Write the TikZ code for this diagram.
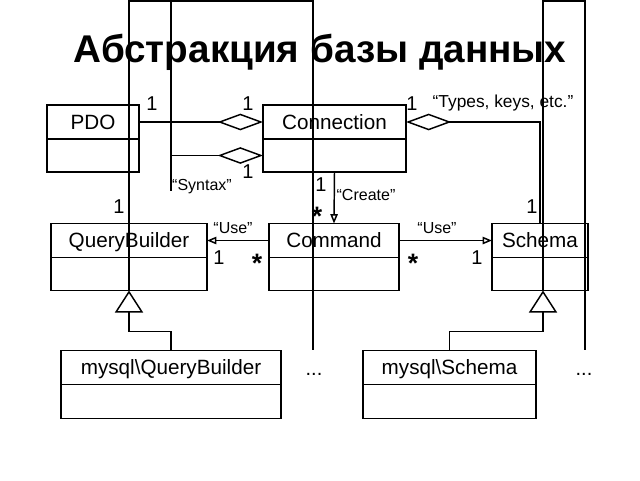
\documentclass[tikz,border=0pt]{standalone}
\usepackage{fontspec}
\setmainfont{Liberation Sans}
\usetikzlibrary{positioning}
\usetikzlibrary{arrows.meta}

\tikzset{
  agg/.tip={Diamond[open,length=34pt,width=12.5pt]},
  gentip/.tip={Triangle[open,length=16.5pt,width=21pt]},
  usetip/.tip={Triangle[open,length=7pt,width=5.5pt]},
  classname/.style={draw,minimum width=#1,minimum height=25.5pt,inner sep=0pt,outer sep=0pt,text height=11pt,text depth=0pt,font=\fontsize{15.5}{18}\selectfont},
  classbody/.style={draw,minimum width=#1,minimum height=24.75pt,inner sep=0pt,outer sep=0pt},
  mult/.style={inner sep=0pt,font=\fontsize{15}{18}\selectfont},
  star/.style={inner sep=0pt,font=\fontsize{20}{20}\selectfont\bfseries},
  role/.style={inner sep=0pt,font=\fontsize{12}{14}\selectfont}
}

\begin{document}
\begin{tikzpicture}[x=0.75pt,y=-0.75pt,line width=1.1pt,every path/.style={>=usetip}]
			\useasboundingbox (0,0) rectangle (640,480);

			% title
			\node (title) at (320,52) {\fontsize{29}{34}\selectfont\bfseries Абстракция базы данных};

			% draw classes
			\node (pdo) at (93,122) [classname=69pt] {PDO};
			\node (pdob) [classbody=69pt,below=0pt of pdo] {};
			\node (conn) at (334.5,122) [classname=107.25pt] {Connection};
			\node (connb) [classbody=107.25pt,below=0pt of conn] {};
			\node (qb) at (129,240.5) [classname=117pt] {QueryBuilder};
			\node (qbb) [classbody=117pt,below=0pt of qb] {};
			\node (cmd) at (334,240.5) [classname=97.5pt] {Command};
			\node (cmdb) [classbody=97.5pt,below=0pt of cmd] {};
			\node (schema) at (540,240.5) [classname=72pt] {Schema};
			\node (schemab) [classbody=72pt,below=0pt of schema] {};
			\node (mqb) at (171,367.5) [classname=165pt] {mysql\textbackslash QueryBuilder};
			\node (mqbb) [classbody=165pt,minimum height=25.5pt,below=0pt of mqb] {};
			\node (msch) at (449.5,367.5) [classname=129.75pt] {mysql\textbackslash Schema};
			\node (mschb) [classbody=129.75pt,minimum height=25.5pt,below=0pt of msch] {};

			% frame lines
			\coordinate (syntop) at (171,1);
			\coordinate (synend) at (171,191);
			\draw (qbb.south) |- (313,1) -- (313,350);
			\draw (syntop) -- (synend);
			\draw ([xshift=2.25pt]schemab.south) |- (585,1) -- (585,350);

			% draw aggregations
			\draw[-agg] (pdo.east) -- (conn.west);
			\draw[-agg] (synend |- connb.west) -- (connb.west);
			\draw[agg-] (conn.east) -| (schema.north);

			% draw dependencies
			\draw[->] (connb.south) -- (cmd.north);
			\draw[->] (cmd.west) -- (qb.east);
			\draw[->] (cmd.east) -- (schema.west);

			% draw generalizations
			\draw[-gentip] (mqb.north) -- ++(0,-19) -| (qbb.south);
			\draw[-gentip] (msch.north) -- ++(0,-19) -| ([xshift=2.25pt]schemab.south);

			% labels
			\node (m1) at (152,104) [mult] {1};
			\node (m2) at (248,104) [mult] {1};
			\node (m3) at (248,172) [mult] {1};
			\node (m4) at (412,104) [mult] {1};
			\node (m5) at (321,185) [mult] {1};
			\node (m6) at (119,207) [mult] {1};
			\node (m7) at (532,207) [mult] {1};
			\node (m8) at (219,258) [mult] {1};
			\node (m9) at (477,258) [mult] {1};
			\node (s1) at (317,216) [star] {*};
			\node (s2) at (257,263) [star] {*};
			\node (s3) at (413,263) [star] {*};
			\node (syntax) at (202,187) [role] {“Syntax”};
			\node (types) at (503,103) [role,font=\fontsize{13}{15}\selectfont] {“Types, keys, etc.”};
			\node (create) at (366,195) [role] {“Create”};
			\node (useq) at (233,228) [role] {“Use”};
			\node (uses) at (437,228) [role] {“Use”};
			\node (dots1) at (314,374) [mult] {...};
			\node (dots2) at (584,374) [mult] {...};
		\end{tikzpicture}
\end{document}
